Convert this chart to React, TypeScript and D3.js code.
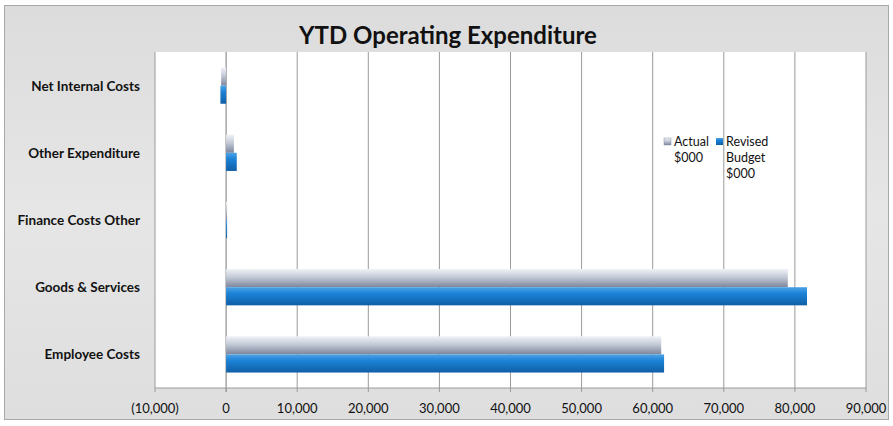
import React from "react";
import * as d3 from "d3";

const categories = [
  "Net Internal Costs",
  "Other Expenditure",
  "Finance Costs Other",
  "Goods & Services",
  "Employee Costs",
];
const actual = [-700, 1100, 60, 79000, 61200];
const budget = [-800, 1500, 80, 81700, 61600];
const seriesNames = [["Actual", "$000"], ["Revised", "Budget", "$000"]];
const ticks = [-10000, 0, 10000, 20000, 30000, 40000, 50000, 60000, 70000, 80000, 90000];

const W = 893;
const H = 426;
const plot = { left: 155, right: 866, top: 52, bottom: 388 };

const fmt = (v: number) => {
  const s = d3.format(",")(Math.abs(v));
  return v < 0 ? `(${s})` : s;
};

const App: React.FC = () => {
  const x = d3.scaleLinear().domain([-10000, 90000]).range([plot.left, plot.right]);
  const y = d3
    .scaleBand<string>()
    .domain(categories)
    .range([plot.top, plot.bottom])
    .paddingInner(0.46)
    .paddingOuter(0.23);
  const sub = d3.scaleBand<string>().domain(["a", "b"]).range([0, y.bandwidth()]);

  const font = "Lato, 'Open Sans', sans-serif";

  return (
    <svg
      width={W}
      height={H}
      style={{ position: "absolute", left: 0, top: 0, fontFamily: font }}
    >
      <defs>
        <linearGradient id="bg" x1="0" y1="0" x2="0" y2="1">
          <stop offset="0" stopColor="#dcdcdc" />
          <stop offset="0.5" stopColor="#e6e6e6" />
          <stop offset="1" stopColor="#dedede" />
        </linearGradient>
        <linearGradient id="gA" x1="0" y1="0" x2="0" y2="1">
          <stop offset="0" stopColor="#f0f2f7" />
          <stop offset="0.45" stopColor="#c3c9d6" />
          <stop offset="1" stopColor="#7c869c" />
        </linearGradient>
        <linearGradient id="gB" x1="0" y1="0" x2="0" y2="1">
          <stop offset="0" stopColor="#4ea3e6" />
          <stop offset="0.35" stopColor="#1b82d6" />
          <stop offset="1" stopColor="#0f5fa6" />
        </linearGradient>
      </defs>
      <rect x={0} y={0} width={W} height={H} fill="#ffffff" />
      <rect x={4.5} y={5.5} width={884} height={414} fill="url(#bg)" stroke="#a8a8a8" />
      <rect
        x={plot.left}
        y={plot.top}
        width={plot.right - plot.left}
        height={plot.bottom - plot.top}
        fill="#ffffff"
      />
      {ticks.map((t) => (
        <line
          key={t}
          x1={x(t)}
          x2={x(t)}
          y1={plot.top}
          y2={plot.bottom + 4}
          stroke={t === 0 ? "#777" : "#9a9a9a"}
          strokeWidth={1}
        />
      ))}
      <line x1={plot.left} x2={plot.right} y1={plot.bottom} y2={plot.bottom} stroke="#9a9a9a" />
      {categories.map((c, i) => {
        const y0 = y(c)!;
        const bars = [
          { v: actual[i], k: "a", fill: "url(#gA)" },
          { v: budget[i], k: "b", fill: "url(#gB)" },
        ];
        return (
          <g key={c}>
            {bars.map((b) => {
              const x0 = x(Math.min(0, b.v));
              const w = Math.max(1, Math.abs(x(b.v) - x(0)));
              return (
                <rect
                  key={b.k}
                  x={x0}
                  y={y0 + sub(b.k)!}
                  width={w}
                  height={sub.bandwidth()}
                  fill={b.fill}
                />
              );
            })}
            <text
              x={140}
              y={y0 + y.bandwidth() / 2}
              textAnchor="end"
              dominantBaseline="central"
              fontSize={13.5}
              fontWeight="bold"
              fill="#111"
            >
              {c}
            </text>
          </g>
        );
      })}
      {ticks.map((t) => (
        <text key={t} x={x(t)} y={413} textAnchor="middle" fontSize={13} fill="#111">
          {fmt(t)}
        </text>
      ))}
      <text x={448} y={44} textAnchor="middle" fontSize={24} fontWeight="bold" fill="#111">
        YTD Operating Expenditure
      </text>
      <g fontSize={12.5} fill="#111">
        <rect x={664} y={138} width={7} height={7} fill="url(#gA)" stroke="#8a93a8" strokeWidth={0.5} />
        {seriesNames[0].map((s, j) => (
          <text key={s} x={674} y={146 + j * 16} textAnchor="start">
            {s}
          </text>
        ))}
        <rect x={716} y={138} width={7} height={7} fill="url(#gB)" />
        {seriesNames[1].map((s, j) => (
          <text key={s} x={726} y={146 + j * 16} textAnchor="start">
            {s}
          </text>
        ))}
      </g>
    </svg>
  );
};

export default App;
